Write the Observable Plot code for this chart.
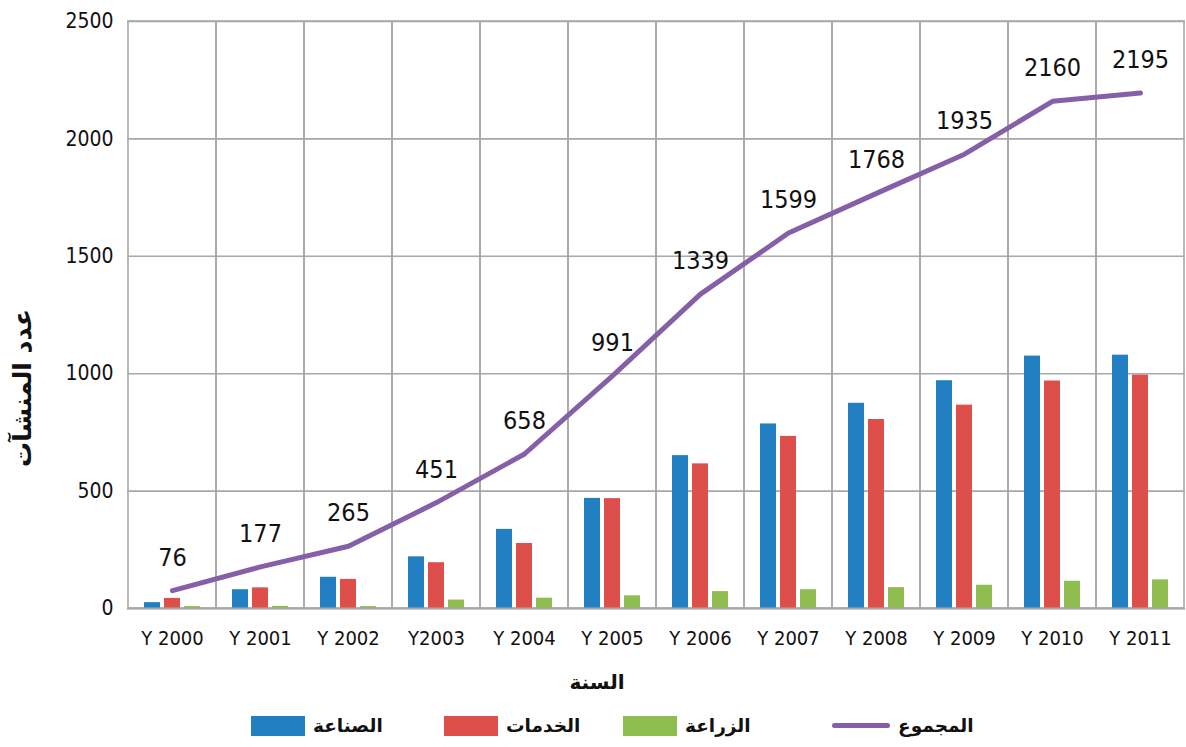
<!DOCTYPE html>
<html lang="ar">
<head>
<meta charset="utf-8">
<script src="https://cdn.jsdelivr.net/npm/d3@7"></script>
<script src="https://cdn.jsdelivr.net/npm/@observablehq/plot@0.6"></script>
<style>
  html, body { margin: 0; padding: 0; background: #fff; }
  #wrap { position: relative; width: 1186px; height: 747px; overflow: hidden; }
  .ar { font-family: "DejaVu Sans", sans-serif; font-weight: bold; color: #111; }
  #ytitle { position: absolute; left: 22px; top: 388px; transform: translate(-50%, -50%) rotate(-90deg); font-size: 25px; white-space: nowrap; }
  #xtitle { position: absolute; left: 597px; top: 682px; transform: translate(-50%, -50%); font-size: 20px; white-space: nowrap; }
  #legend { position: absolute; left: 0; top: 715px; width: 1186px; height: 24px; }
  .item { position: absolute; top: 0; display: flex; align-items: center; gap: 8px; font-size: 18.5px; }
  .sw { width: 54px; height: 20px; }
  .ln { width: 58px; height: 5px; border-radius: 3px; }
</style>
</head>
<body>
<div id="wrap">
  <div id="chart"></div>
  <div id="ytitle" class="ar" dir="rtl">عدد المنشآت</div>
  <div id="xtitle" class="ar" dir="rtl">السنة</div>
  <div id="legend"></div>
</div>
<script>
// Years (category labels on the x axis)
const years = ["Y 2000", "Y 2001", "Y 2002", "Y2003", "Y 2004", "Y 2005",
               "Y 2006", "Y 2007", "Y 2008", "Y 2009", "Y 2010", "Y 2011"];

// Number of establishments per sector
const industry    = [25, 80, 133, 220, 337, 469, 651, 786, 874, 970, 1075, 1079];
const services    = [43, 88, 124, 195, 277, 468, 616, 733, 805, 866, 969, 994];
const agriculture = [8, 9, 8, 36, 44, 54, 72, 80, 89, 99, 116, 122];
const total       = [76, 177, 265, 451, 658, 991, 1339, 1599, 1768, 1935, 2160, 2195];

// Series names and colours
const seriesNames  = ["الصناعة", "الخدمات", "الزراعة", "المجموع"];
const seriesColors = ["#2280c2", "#de4f4c", "#8fbd50", "#8560a8"];

const yTicks = [0, 500, 1000, 1500, 2000, 2500];

const rows = years.map((year, i) => ({
  year,
  industry: industry[i],
  services: services[i],
  agriculture: agriculture[i],
  total: total[i]
}));

const gridColor = "#a8a8a8";
const barInset = 36;

const chart = Plot.plot({
  width: 1186,
  height: 700,
  marginTop: 21,
  marginBottom: 92,
  marginLeft: 127,
  marginRight: 1,
  style: { fontFamily: "'Liberation Sans Narrow', 'DejaVu Sans Condensed', sans-serif", color: "#111", background: "#fff" },
  x: { type: "band", domain: years, padding: 0, label: null },
  y: { domain: [0, 2500], label: null },
  marks: [
    // horizontal grid
    Plot.ruleY(yTicks, { stroke: gridColor, strokeWidth: 1.6 }),
    // vertical category separators
    Plot.cell(years, { x: d => d, fill: "none", stroke: gridColor, strokeWidth: 1.6 }),
    // grouped bars
    Plot.barY(rows, { x: "year", y: "industry", fill: seriesColors[0], insetLeft: barInset, insetRight: barInset, dx: -20 }),
    Plot.barY(rows, { x: "year", y: "services", fill: seriesColors[1], insetLeft: barInset, insetRight: barInset, dx: 0 }),
    Plot.barY(rows, { x: "year", y: "agriculture", fill: seriesColors[2], insetLeft: barInset, insetRight: barInset, dx: 20 }),
    Plot.ruleY([0], { stroke: gridColor, strokeWidth: 2.2 }),
    // total line with value labels
    Plot.lineY(rows, { x: "year", y: "total", stroke: seriesColors[3], strokeWidth: 5, strokeLinecap: "round", strokeLinejoin: "round" }),
    Plot.text(rows, { x: "year", y: "total", text: d => String(d.total), dy: -33, fontSize: 25, fill: "#111" }),
    Plot.axisY(yTicks, { tickSize: 0, tickPadding: 14, fontSize: 21, tickFormat: d => String(d), label: null }),
    Plot.axisX({ tickSize: 0, tickPadding: 22, fontSize: 20, label: null })
  ]
});
document.getElementById("chart").appendChild(chart);

// Legend, laid out left to right as drawn under the chart
const legend = document.getElementById("legend");
const legendLeft = [251, 444, 623, 832];
seriesNames.forEach((name, i) => {
  const item = document.createElement("div");
  item.className = "item ar";
  item.style.left = legendLeft[i] + "px";
  const key = document.createElement("div");
  key.className = i === 3 ? "ln" : "sw";
  key.style.background = seriesColors[i];
  const label = document.createElement("span");
  label.dir = "rtl";
  label.textContent = name;
  item.appendChild(key);
  item.appendChild(label);
  legend.appendChild(item);
});
</script>
</body>
</html>
